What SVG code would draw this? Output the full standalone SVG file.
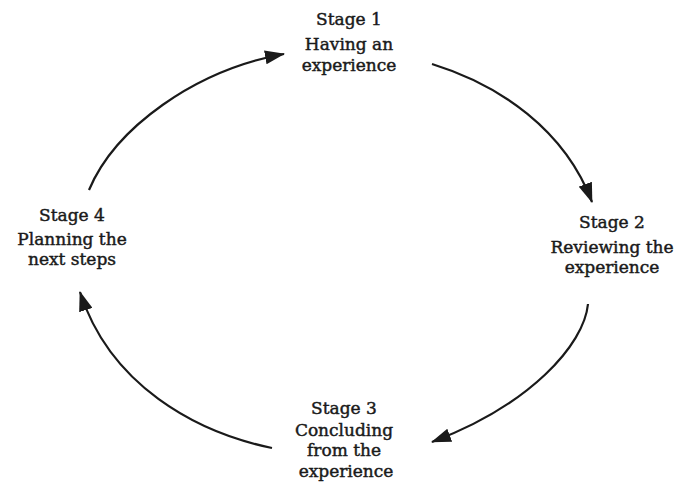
<svg xmlns="http://www.w3.org/2000/svg" width="680" height="484" viewBox="0 0 680 484">
<style>
text{font-family:"DejaVu Serif","Liberation Serif",serif;font-size:17px;fill:#1a1a1a;stroke:#1a1a1a;stroke-width:0.45;text-anchor:middle;}
.c{fill:none;stroke:#1a1a1a;stroke-width:2.2;marker-end:url(#ah);}
</style>
<defs>
<marker id="ah" viewBox="0 0 20 14" refX="19" refY="7" markerWidth="20" markerHeight="14" markerUnits="userSpaceOnUse" orient="auto">
<path d="M0,0 L20,7 L0,14 z" fill="#1a1a1a"/>
</marker>
</defs>
<rect width="680" height="484" fill="#fff"/>
<g id="connectors">
<path class="c" d="M89,190 C115,128 195,70 284,54"/>
<path class="c" d="M432,64 C500,85 565,130 592,202"/>
<path class="c" d="M588,304 C584,345 530,405 432,442"/>
<path class="c" d="M272,448 C195,432 110,385 80,292"/>
</g>
<g id="stage1">
<text x="349" y="25">Stage 1</text>
<text x="349" y="50">Having an</text>
<text x="349" y="71">experience</text>
</g>
<g id="stage2">
<text x="612" y="228">Stage 2</text>
<text x="612" y="253">Reviewing the</text>
<text x="612" y="273">experience</text>
</g>
<g id="stage3">
<text x="344" y="414">Stage 3</text>
<text x="344" y="436">Concluding</text>
<text x="344" y="456">from the</text>
<text x="346" y="477">experience</text>
</g>
<g id="stage4">
<text x="72" y="221">Stage 4</text>
<text x="72" y="245">Planning the</text>
<text x="72" y="265">next steps</text>
</g>
</svg>
